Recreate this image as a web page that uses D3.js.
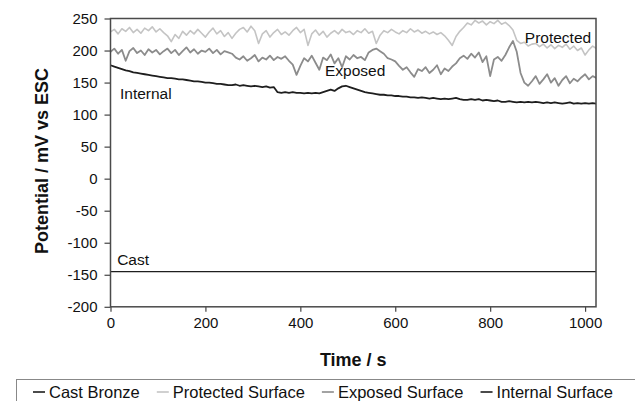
<!DOCTYPE html>
<html>
<head>
<meta charset="utf-8">
<script src="https://cdn.jsdelivr.net/npm/d3@7"></script>
<style>
  body { margin: 0; background: #fff; }
  svg { display: block; font-family: "Liberation Sans", Arial, sans-serif; }
</style>
</head>
<body>
<div id="chart"></div>
<script>
// Sampling step of the recorded potentials (s)
var step = 8;

// Cast bronze reference level (mV vs ESC)
var castLevel = -145;

// Protected surface potential, one value every 8 s
var protectedVals = [
  229,233,226,234,230,236,228,233,227,235,231,237,229,234,228,223,
  214,225,219,230,224,231,226,233,227,221,229,235,226,231,222,228,
  219,227,233,236,229,238,231,211,226,231,221,228,233,225,229,224,
  231,236,228,233,208,226,232,224,230,221,227,231,226,233,228,230,
  225,231,228,234,227,230,211,224,231,228,233,229,226,231,228,234,
  229,232,227,230,226,229,225,228,223,216,208,222,230,236,243,240,
  247,243,246,240,245,242,247,241,244,239,232,216,211,213,207,210,
  211,206,210,204,209,203,208,205,210,202,207,200,204,193,201,207,
  203
];

// Exposed surface potential
var exposedVals = [
  198,203,195,201,184,199,204,196,200,193,202,197,201,194,199,203,
  196,201,193,199,205,197,202,195,200,198,203,196,201,194,199,197,
  195,189,186,191,184,188,193,183,189,186,192,185,190,187,191,184,
  178,162,176,188,183,192,181,170,189,185,194,180,188,174,191,186,
  193,188,190,185,197,201,203,199,195,188,186,183,176,170,174,166,
  159,171,168,174,165,170,177,163,172,168,175,180,188,192,187,195,
  189,197,182,191,160,186,190,184,193,205,215,198,165,150,145,152,
  160,148,155,163,150,157,145,154,160,149,156,152,158,163,155,160,
  157
];

// Internal surface potential
var internalVals = [
  177,175,173,171,169,168,166,165,164,163,162,161,160,159,158,157,
  157,156,155,155,154,153,152,152,151,150,150,149,148,148,147,146,
  146,147,145,146,145,144,145,144,143,144,142,143,135,134,135,134,
  135,134,134,133,134,133,134,133,135,137,139,137,141,144,145,143,
  141,139,137,135,134,133,132,131,131,130,130,129,129,128,128,127,
  127,126,127,126,125,126,125,124,125,124,125,126,124,123,123,124,
  123,124,122,123,122,121,122,120,120,121,120,119,120,119,120,119,
  120,119,118,119,118,119,118,117,118,119,117,118,117,118,117,118,
  117
];

var yTicks = [250, 200, 150, 100, 50, 0, -50, -100, -150, -200];
var xTicks = [0, 200, 400, 600, 800, 1000];

var legendNames = ["Cast Bronze", "Protected Surface", "Exposed Surface", "Internal Surface"];
var legendColors = ["#1e1e1e", "#c4c4c4", "#8c8c8c", "#1e1e1e"];

// In-plot series labels: [text, time, potential]
var seriesLabels = [
  ["Internal", 20, 124],
  ["Exposed", 452, 160],
  ["Protected", 873, 211],
  ["Cast", 14, -135]
];

var width = 635, height = 401;
var margin = { top: 18.5, left: 110.5 };
var plotW = 485.5, plotH = 288.3;

var svg = d3.select("#chart").append("svg")
  .attr("width", width)
  .attr("height", height);

var x = d3.scaleLinear().domain([0, 1023]).range([0, plotW]);
var y = d3.scaleLinear().domain([-200, 250]).range([plotH, 0]);

var g = svg.append("g")
  .attr("transform", "translate(" + margin.left + "," + margin.top + ")");

svg.append("defs").append("clipPath").attr("id", "clip")
  .append("rect").attr("width", plotW).attr("height", plotH);

// axes (plain hyphen minus, no thousands separator, like the original)
var plain = function (d) { return String(d); };
var yAxis = g.append("g")
  .call(d3.axisLeft(y).tickValues(yTicks).tickFormat(plain).tickSize(6).tickPadding(7));
var xAxis = g.append("g")
  .attr("transform", "translate(0," + plotH + ")")
  .call(d3.axisBottom(x).tickValues(xTicks).tickFormat(plain).tickSize(5).tickPadding(6));

[xAxis, yAxis].forEach(function (a) {
  a.select(".domain").remove();
  a.selectAll("line").attr("stroke", "#444").attr("stroke-width", 1.2);
  a.selectAll("text")
    .attr("fill", "#111")
    .style("font-size", "15px")
    .style("font-family", "'Liberation Sans', Arial, sans-serif");
});

function toPoints(vals) {
  return vals.map(function (v, i) { return [i * step, v]; });
}

var line = d3.line()
  .x(function (d) { return x(d[0]); })
  .y(function (d) { return y(d[1]); });

var lines = g.append("g").attr("clip-path", "url(#clip)");

var series = [
  { vals: protectedVals, color: legendColors[1], w: 1.6 },
  { vals: exposedVals, color: legendColors[2], w: 1.8 },
  { vals: internalVals, color: legendColors[3], w: 1.8 }
];

series.forEach(function (s) {
  lines.append("path")
    .datum(toPoints(s.vals))
    .attr("fill", "none")
    .attr("stroke", s.color)
    .attr("stroke-width", s.w)
    .attr("stroke-linejoin", "round")
    .attr("d", line);
});

// cast bronze is a constant level across the whole run
lines.append("path")
  .datum([[0, castLevel], [1023, castLevel]])
  .attr("fill", "none")
  .attr("stroke", legendColors[0])
  .attr("stroke-width", 1.3)
  .attr("d", line);

// plot frame
g.append("rect")
  .attr("width", plotW)
  .attr("height", plotH)
  .attr("fill", "none")
  .attr("stroke", "#4a4a4a")
  .attr("stroke-width", 1.5);

// labels inside the plot
g.selectAll(".slabel")
  .data(seriesLabels)
  .enter().append("text")
  .attr("class", "slabel")
  .attr("x", function (d) { return x(d[1]); })
  .attr("y", function (d) { return y(d[2]); })
  .style("font-size", "15.5px")
  .attr("fill", "#111")
  .text(function (d) { return d[0]; });

// axis titles
svg.append("text")
  .attr("x", margin.left + plotW / 2)
  .attr("y", 366)
  .attr("text-anchor", "middle")
  .style("font-size", "18px")
  .style("font-weight", "bold")
  .attr("fill", "#111")
  .text("Time / s");

svg.append("text")
  .attr("transform", "translate(48,161) rotate(-90)")
  .attr("text-anchor", "middle")
  .style("font-size", "18px")
  .style("font-weight", "bold")
  .attr("fill", "#111")
  .text("Potential / mV vs ESC");

// legend
var legend = svg.append("g");
legend.append("rect")
  .attr("x", 16.5)
  .attr("y", 379.5)
  .attr("width", 640)
  .attr("height", 40)
  .attr("fill", "#fff")
  .attr("stroke", "#888")
  .attr("stroke-width", 1);

var lx = 33;
legendNames.forEach(function (name, i) {
  legend.append("line")
    .attr("x1", lx).attr("x2", lx + 12)
    .attr("y1", 392).attr("y2", 392)
    .attr("stroke", legendColors[i])
    .attr("stroke-width", 1.6);
  var t = legend.append("text")
    .attr("x", lx + 16)
    .attr("y", 397.5)
    .style("font-size", "16.5px")
    .attr("fill", "#111")
    .text(name);
  lx += 16 + t.node().getComputedTextLength() + 17;
});
</script>
</body>
</html>
